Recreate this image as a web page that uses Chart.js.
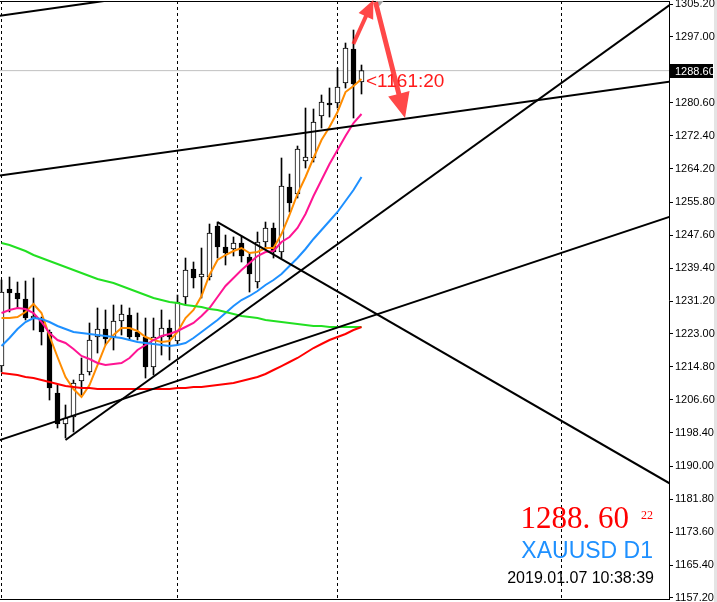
<!DOCTYPE html>
<html><head><meta charset="utf-8">
<script src="https://cdn.jsdelivr.net/npm/chart.js@4.4.1/dist/chart.umd.min.js"></script>
<style>html,body{margin:0;padding:0;background:#fff;overflow:hidden}#wrap{width:717px;height:602px;position:relative}</style>
</head><body><div id="wrap"><canvas id="c" width="717" height="602"></canvas></div>
<script>
// ---- data (bar index, prices) ----
const BARS = [0,1,2,3,4,5,6,7,8,9,10,11,12,13,14,15,16,17,18,19,20,21,22,23,24,25,26,27,28,29,30,31,32,33,34,35,36,37,38,39,40,41,42,43,44,45];
const OPEN  = [1215.00,1234.19,1233.19,1231.70,1226.96,1226.47,1223.48,1208.28,1200.55,1202.30,1211.27,1213.51,1222.23,1224.22,1222.23,1226.22,1227.71,1223.48,1222.23,1214.75,1222.23,1224.47,1221.23,1232.20,1239.17,1237.18,1237.18,1249.89,1244.65,1244.16,1245.65,1242.16,1235.93,1245.90,1249.39,1243.41,1259.60,1257.86,1266.08,1266.83,1277.29,1280.53,1280.53,1285.52,1293.99,1285.77];
const HIGH  = [1236.43,1237.18,1235.93,1236.18,1236.93,1227.21,1223.97,1210.27,1205.29,1211.52,1217.00,1225.72,1229.46,1228.96,1230.20,1230.20,1229.46,1228.21,1226.96,1226.96,1228.96,1226.47,1232.69,1241.91,1240.92,1244.40,1250.38,1250.88,1247.64,1247.15,1247.40,1243.16,1248.39,1250.88,1250.63,1266.83,1262.84,1269.82,1279.29,1279.04,1282.53,1284.27,1289.25,1295.48,1298.72,1290.00];
const LOW   = [1213.51,1228.46,1229.46,1226.47,1223.97,1220.24,1206.53,1199.56,1197.06,1198.56,1207.78,1212.76,1218.24,1220.24,1218.99,1222.73,1221.48,1221.48,1212.01,1212.76,1217.74,1216.50,1220.24,1230.20,1234.44,1231.95,1236.43,1241.91,1240.17,1242.41,1240.92,1233.44,1234.44,1244.40,1241.91,1241.91,1253.37,1256.86,1264.34,1265.83,1274.30,1277.04,1279.29,1284.27,1276.80,1282.78];
const CLOSE = [1233.44,1233.19,1231.70,1226.96,1227.46,1223.48,1209.52,1200.55,1202.05,1210.77,1213.01,1221.48,1224.22,1221.73,1226.22,1227.96,1222.23,1222.23,1214.75,1222.23,1224.47,1222.23,1230.95,1238.92,1236.93,1237.93,1248.14,1244.65,1243.16,1245.65,1242.41,1237.93,1245.90,1249.39,1243.41,1259.85,1255.62,1269.07,1267.08,1275.80,1280.78,1280.04,1284.52,1294.24,1285.27,1288.60];

const MA_ORANGE = [1226.96,1226.96,1227.21,1228.46,1230.45,1228.21,1222.48,1217.25,1212.26,1209.27,1207.28,1210.27,1215.25,1220.24,1222.73,1224.47,1224.47,1223.73,1222.23,1221.48,1220.98,1221.23,1223.48,1226.96,1228.96,1232.45,1237.68,1241.42,1242.66,1243.66,1244.41,1243.16,1243.41,1244.41,1244.41,1247.89,1252.63,1257.86,1262.10,1266.83,1271.32,1274.55,1278.29,1283.27,1284.77,1286.51];
const MA_PINK   = [1228.21,1228.96,1229.46,1229.21,1228.21,1225.97,1223.23,1221.48,1220.74,1219.24,1217.50,1216.75,1215.75,1215.25,1215.50,1215.75,1217.00,1218.99,1220.24,1221.48,1222.48,1222.98,1223.73,1224.72,1225.72,1227.46,1229.46,1232.20,1234.94,1236.93,1238.92,1240.67,1242.41,1243.41,1243.66,1245.90,1247.15,1249.39,1252.88,1257.36,1261.35,1265.34,1268.82,1272.31,1275.55,1277.79];
const MA_BLUE   = [1219.99,1221.98,1224.22,1225.97,1226.96,1226.72,1225.97,1224.97,1224.22,1223.48,1223.23,1222.98,1222.73,1222.48,1222.23,1221.98,1221.48,1220.98,1220.74,1220.49,1220.24,1219.99,1220.24,1220.74,1221.98,1223.48,1224.97,1226.47,1228.21,1229.95,1231.45,1232.45,1233.69,1235.19,1236.43,1237.93,1239.92,1241.91,1244.16,1246.65,1248.89,1251.13,1253.38,1256.12,1258.86,1262.10];
const MA_GREEN  = [1245.65,1245.15,1244.41,1243.66,1242.66,1241.91,1241.17,1240.42,1239.67,1238.92,1238.18,1237.43,1236.68,1236.18,1235.69,1234.94,1234.19,1233.44,1232.70,1231.95,1231.45,1230.95,1230.70,1230.20,1229.95,1229.71,1229.21,1228.96,1228.46,1227.96,1227.46,1227.21,1226.96,1226.47,1226.22,1225.97,1225.72,1225.47,1225.22,1224.97,1224.97,1224.72,1224.72,1224.72,1224.72,1224.72];
const MA_RED    = [1213.26,1213.01,1212.76,1212.26,1212.01,1211.52,1211.02,1210.52,1210.02,1209.77,1209.52,1209.52,1209.27,1209.27,1209.27,1209.27,1209.27,1209.27,1209.27,1209.27,1209.27,1209.27,1209.52,1209.52,1209.77,1209.77,1210.02,1210.27,1210.52,1210.77,1211.27,1211.77,1212.26,1213.01,1214.01,1215.00,1216.00,1217.00,1218.24,1219.49,1220.49,1221.48,1222.23,1222.98,1223.97,1224.72];

// trendline anchor points [barIndex, price]
const TL_CHANNEL_LOW  = [[-1,1262.26],[84,1285.99]];
const TL_CHANNEL_HIGH = [[-1,1302.06],[20,1307.97]];
const TL_RISE_SLOW    = [[-1,1196.02],[84,1252.50]];
const TL_RISE_FAST    = [[8,1196.57],[84,1305.65]];
const TL_FALL         = [[27,1250.88],[84,1185.20]];
const ARROW_UP   = [[43.98,1295.23],[46.48,1306.20]];
const ARROW_DOWN = [[46.75,1305.70],[50.44,1276.80]];

const TICK_LABELS = ["1305.20","1297.00","1280.60","1272.40","1264.20","1255.80","1247.60","1239.40","1231.20","1223.00","1214.80","1206.60","1198.40","1190.00","1181.80","1173.60","1165.40","1157.20"];
const GRID_BARS = [0,22,42,70];
const CURRENT = 1288.60;
const SYMBOL = "XAUUSD D1";
const TIMESTAMP = "2019.01.07 10:38:39";
const COUNTDOWN = "<1161:20";
const SPREAD = "22";

// ---- build ----
const pts = arr => BARS.map((b,i)=>({x:b,y:arr[i]}));
const seg = arr => arr.map(p=>({x:p[0],y:p[1]}));
const bull = BARS.map((b,i)=>CLOSE[i]>=OPEN[i]);

function maSet(arr,color){return {type:'line',data:pts(arr),borderColor:color,borderWidth:2,pointRadius:0,tension:0,fill:false,order:5,clip:0};}
function tlSet(arr){return {type:'line',data:seg(arr),borderColor:'#000',borderWidth:2,pointRadius:0,tension:0,fill:false,order:1,clip:0};}

const overlay = {
  id:'overlay',
  beforeDraw(chart){
    const c=chart.ctx; c.save(); c.fillStyle='#fff'; c.fillRect(0,0,chart.width,chart.height);
    c.fillStyle='#e4e4e4'; c.fillRect(714,0,3,chart.height); c.restore();
  },
  afterDraw(chart){
    const c=chart.ctx, xs=chart.scales.x, ys=chart.scales.y, a=chart.chartArea;
    c.save();
    // frame
    c.fillStyle='#000';
    c.fillRect(a.left,a.top,a.right-a.left,1);
    c.fillRect(a.left,a.bottom,a.right-a.left,1);
    // countdown
    const lastX = xs.getPixelForValue(BARS[BARS.length-1]);
    const cy = ys.getPixelForValue(CURRENT);
    c.fillStyle='#ff1a1a'; c.font='19px "Liberation Sans"'; c.textBaseline='middle'; c.textAlign='left';
    c.fillText(COUNTDOWN, lastX+4.5, cy+11);
    // shift marker
    c.fillStyle='#a8a8a8'; c.beginPath();
    c.moveTo(lastX+14,1); c.lineTo(lastX+22,1); c.lineTo(lastX+18,6); c.closePath(); c.fill();
    // arrows
    function arrow(p1,p2,w,hl,hw){
      const x1=xs.getPixelForValue(p1[0]), y1=ys.getPixelForValue(p1[1]);
      const x2=xs.getPixelForValue(p2[0]), y2=ys.getPixelForValue(p2[1]);
      const dx=x2-x1, dy=y2-y1, L=Math.hypot(dx,dy), ux=dx/L, uy=dy/L, nx=-uy, ny=ux;
      const mx=x2-ux*hl, my=y2-uy*hl;
      c.beginPath();
      c.moveTo(x1+nx*w/2,y1+ny*w/2);
      c.lineTo(mx+nx*w/2,my+ny*w/2);
      c.lineTo(mx+nx*hw/2,my+ny*hw/2);
      c.lineTo(x2,y2);
      c.lineTo(mx-nx*hw/2,my-ny*hw/2);
      c.lineTo(mx-nx*w/2,my-ny*w/2);
      c.lineTo(x1-nx*w/2,y1-ny*w/2);
      c.closePath(); c.fill();
    }
    c.fillStyle='rgba(255,40,40,0.85)';
    arrow(ARROW_UP[0],ARROW_UP[1],4,18,16);
    arrow(ARROW_DOWN[0],ARROW_DOWN[1],5,25,22);
    // current price label on axis
    c.fillStyle='#000'; c.fillRect(a.right+1, Math.round(cy)-7, 43, 14);
    c.fillStyle='#fff'; c.font='11px "Liberation Sans"'; c.textAlign='left'; c.textBaseline='middle';
    c.fillText(CURRENT.toFixed(2), a.right+6, Math.round(cy)+0.5);
    // info block
    c.textBaseline='alphabetic';
    c.fillStyle='#ff0000'; c.textAlign='right'; c.font='31px "Liberation Serif"';
    c.fillText(CURRENT.toFixed(2).replace('.', '. '), 629, 528);
    c.textAlign='left'; c.font='12px "Liberation Serif"';
    c.fillText(SPREAD, 641, 519);
    c.textAlign='right'; c.fillStyle='#1e90ff'; c.font='23px "Liberation Sans"';
    c.fillText(SYMBOL, 653, 558);
    c.fillStyle='#000'; c.font='16px "Liberation Sans"';
    c.fillText(TIMESTAMP, 654, 583);
    c.restore();
  }
};

new Chart(document.getElementById('c'), {
  type:'bar',
  data:{datasets:[
    tlSet(TL_CHANNEL_LOW), tlSet(TL_CHANNEL_HIGH), tlSet(TL_RISE_SLOW), tlSet(TL_RISE_FAST), tlSet(TL_FALL),
    {type:'line',data:[{x:-1,y:CURRENT},{x:90,y:CURRENT}],borderColor:'#c0c0c0',borderWidth:1,pointRadius:0,order:20,clip:0},
    maSet(MA_RED,'#ff0000'), maSet(MA_GREEN,'#22e022'), maSet(MA_BLUE,'#1e90ff'), maSet(MA_PINK,'#ff1493'), maSet(MA_ORANGE,'#ff8c00'),
    {type:'bar',data:BARS.map((b,i)=>({x:b,y:[LOW[i],HIGH[i]]})),barThickness:1,backgroundColor:'#000',borderWidth:0,grouped:false,order:12},
    {type:'bar',data:BARS.map((b,i)=>({x:b,y:[OPEN[i],CLOSE[i]]})),barThickness:5,minBarLength:1,
      backgroundColor:bull.map(u=>u?'#fff':'#000'),borderColor:'#000',borderWidth:1,borderSkipped:false,grouped:false,order:11}
  ]},
  options:{
    responsive:false, devicePixelRatio:1, animation:false,
    layout:{padding:{top:1,bottom:3,left:0,right:0}},
    plugins:{legend:{display:false},tooltip:{enabled:false}},
    events:[],
    scales:{
      x:{type:'linear',min:-0.1875,max:83.4375,offset:false,display:true,
        afterBuildTicks:s=>{s.ticks=GRID_BARS.map(v=>({value:v}));},
        ticks:{display:false},
        grid:{color:'#000',lineWidth:1,drawTicks:false,drawOnChartArea:true,offset:false},
        border:{display:false,dash:[3,3]},
        afterFit:s=>{s.height=0;s.paddingLeft=0;s.paddingRight=0;}},
      y:{type:'linear',position:'right',min:1156.95,max:1305.95,
        afterBuildTicks:s=>{s.ticks=TICK_LABELS.map(t=>({value:parseFloat(t)}));},
        ticks:{autoSkip:false,padding:2,color:'#000',font:{family:'Liberation Sans',size:11},callback:(v,i)=>TICK_LABELS[i]},
        grid:{drawOnChartArea:false,drawTicks:true,tickLength:4,color:'#000',offset:false},
        border:{display:true,color:'#000',width:1},
        afterFit:s=>{s.width=48;s.paddingTop=0;s.paddingBottom=0;}}
    }
  },
  plugins:[overlay]
});
</script></body></html>
